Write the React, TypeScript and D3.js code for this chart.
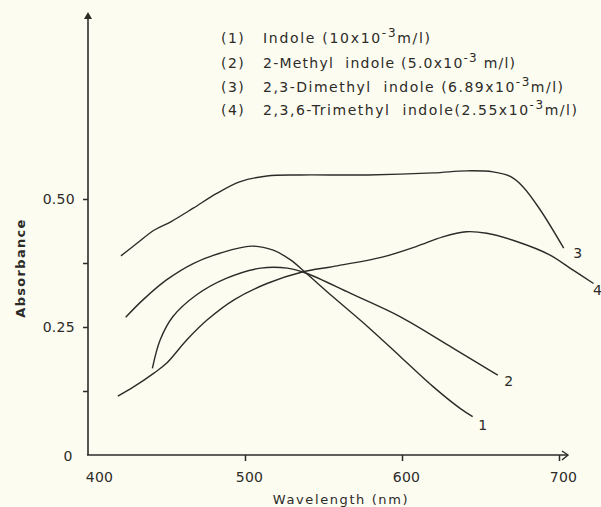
import React, { useEffect, useRef } from 'react';
import * as d3 from 'd3';

// values
const wl1 = [424, 435, 450, 467, 484, 504, 518, 529, 539, 556, 578, 599, 620, 637, 645];
const abs1 = [0.269, 0.303, 0.342, 0.374, 0.394, 0.408, 0.400, 0.381, 0.355, 0.309, 0.251, 0.192, 0.133, 0.091, 0.075];

const wl2 = [441, 446, 454, 469, 488, 510, 527, 539, 567, 599, 631, 652, 661];
const abs2 = [0.169, 0.225, 0.270, 0.3125, 0.345, 0.365, 0.365, 0.355, 0.316, 0.270, 0.2115, 0.1725, 0.156];

const wl3 = [421, 431, 442, 453, 467, 482, 497, 514, 535, 578, 620, 641, 658, 669, 677, 688, 703];
const abs3 = [0.389, 0.413, 0.439, 0.456, 0.482, 0.511, 0.534, 0.545, 0.547, 0.547, 0.551, 0.555, 0.553, 0.544, 0.524, 0.479, 0.404];

const wl4 = [419, 429, 442, 450, 463, 476, 493, 514, 537, 556, 588, 609, 626, 641, 654, 673, 694, 709, 722];
const abs4 = [0.115, 0.133, 0.160, 0.179, 0.225, 0.264, 0.303, 0.335, 0.358, 0.368, 0.387, 0.407, 0.426, 0.436, 0.433, 0.417, 0.391, 0.361, 0.335];

const curveIds = ['1', '2', '3', '4'];
const legendNames = ['Indole (10x10', '2-Methyl  indole (5.0x10', '2,3-Dimethyl  indole (6.89x10', '2,3,6-Trimethyl  indole(2.55x10'];
const legendUnits = ['m/l)', ' m/l)', 'm/l)', 'm/l)'];
const xTicks = [400, 500, 600, 700];
const yTicks = [0.125, 0.25, 0.375, 0.5];
const yLabels: Record<string, string> = { '0.25': '0.25', '0.5': '0.50' };

const INK = '#2d2b28';
const PAPER = '#fcfcf1';

export default function App() {
  const ref = useRef<SVGSVGElement>(null);

  useEffect(() => {
    const svg = d3.select(ref.current);
    svg.selectAll('*').remove();

    const x = d3.scaleLinear().domain([400, 700]).range([88, 559]);
    const y = d3.scaleLinear().domain([0, 0.5]).range([455, 199]);

    svg.append('rect').attr('width', 601).attr('height', 507).attr('fill', PAPER);

    const font = 'DejaVu Sans, sans-serif';

    // y axis
    svg.append('line').attr('x1', 88).attr('x2', 88).attr('y1', 455).attr('y2', 16)
      .attr('stroke', INK).attr('stroke-width', 1.6);
    svg.append('path').attr('d', 'M88,12 L84,19 L92,19 Z').attr('fill', INK);

    const yAxis = svg.append('g').attr('transform', 'translate(88,0)')
      .call(d3.axisLeft(y).tickValues(yTicks).tickSize(5).tickPadding(8)
        .tickFormat((d: any) => yLabels[String(d)] || ''));
    yAxis.select('.domain').remove();
    yAxis.selectAll('line').attr('stroke', INK).attr('stroke-width', 1.5);
    yAxis.selectAll('text').attr('fill', INK).attr('font-family', font)
      .attr('font-size', 14).attr('letter-spacing', 0.3);

    // x axis
    svg.append('line').attr('x1', 87).attr('x2', 568).attr('y1', 455).attr('y2', 455)
      .attr('stroke', INK).attr('stroke-width', 1.6);
    svg.append('path').attr('d', 'M562,451 L568,455 L562,460')
      .attr('fill', 'none').attr('stroke', INK).attr('stroke-width', 1.4);

    const xAxis = svg.append('g').attr('transform', 'translate(0,455)')
      .call(d3.axisBottom(x).tickValues(xTicks).tickSize(6).tickPadding(11)
        .tickFormat((d: any) => String(d)));
    xAxis.select('.domain').remove();
    xAxis.selectAll('line').attr('stroke', INK).attr('stroke-width', 1.5)
      .attr('opacity', (d: any) => (d === 400 ? 0 : 1));
    xAxis.selectAll('text').attr('fill', INK).attr('font-family', font)
      .attr('font-size', 14).attr('letter-spacing', 0.3)
      .attr('dx', (d: any) => (d === 400 ? 11 : 4));

    svg.append('text').attr('x', 68).attr('y', 461).attr('text-anchor', 'middle')
      .attr('fill', INK).attr('font-family', font).attr('font-size', 14).text('0');

    // axis titles
    svg.append('text').attr('x', 341).attr('y', 504).attr('text-anchor', 'middle')
      .attr('fill', INK).attr('font-family', font).attr('font-size', 13)
      .attr('letter-spacing', 1.6).text('Wavelength (nm)');
    svg.append('text').attr('transform', 'translate(25,268) rotate(-90)')
      .attr('text-anchor', 'middle').attr('fill', INK).attr('font-family', font)
      .attr('font-size', 13).attr('font-weight', 'bold').attr('letter-spacing', 1.3)
      .text('Absorbance');

    // curves, each numbered at its end
    const series = [
      { wl: wl1, abs: abs1, dx: 10, dy: 13 },
      { wl: wl2, abs: abs2, dx: 11, dy: 11 },
      { wl: wl3, abs: abs3, dx: 14, dy: 10 },
      { wl: wl4, abs: abs4, dx: 4, dy: 12 },
    ];
    const line = d3.line().curve(d3.curveCatmullRom.alpha(0.5));

    series.forEach((s, i) => {
      const pts = s.wl.map((w, j) => [x(w), y(s.abs[j])] as [number, number]);
      svg.append('path')
        .attr('d', line(pts))
        .attr('fill', 'none').attr('stroke', INK).attr('stroke-width', 1.4);
      const last = pts[pts.length - 1];
      svg.append('text').attr('x', last[0] + s.dx).attr('y', last[1] + s.dy)
        .attr('text-anchor', 'middle').attr('fill', INK).attr('font-family', font)
        .attr('font-size', 14).text(curveIds[i]);
    });

    // legend
    const legendY = [43, 68, 92, 115];
    const legendW = [167, 252, 300, 314];
    legendNames.forEach((name, i) => {
      svg.append('text').attr('x', 221).attr('y', legendY[i]).attr('fill', INK)
        .attr('font-family', font).attr('font-size', 14).attr('letter-spacing', 1.5)
        .text('(' + curveIds[i] + ')');
      const t = svg.append('text').attr('x', 263).attr('y', legendY[i]).attr('fill', INK)
        .attr('font-family', font).attr('font-size', 14)
        .attr('textLength', legendW[i]).attr('lengthAdjust', 'spacing')
        .style('white-space', 'pre');
      t.append('tspan').text(name);
      t.append('tspan').attr('dy', -6).attr('font-size', 12).text('-3');
      t.append('tspan').attr('dy', 6).text(legendUnits[i]);
    });
  }, []);

  return (
    <svg ref={ref} width={601} height={507}
      style={{ position: 'absolute', left: 0, top: 0, display: 'block' }} />
  );
}
